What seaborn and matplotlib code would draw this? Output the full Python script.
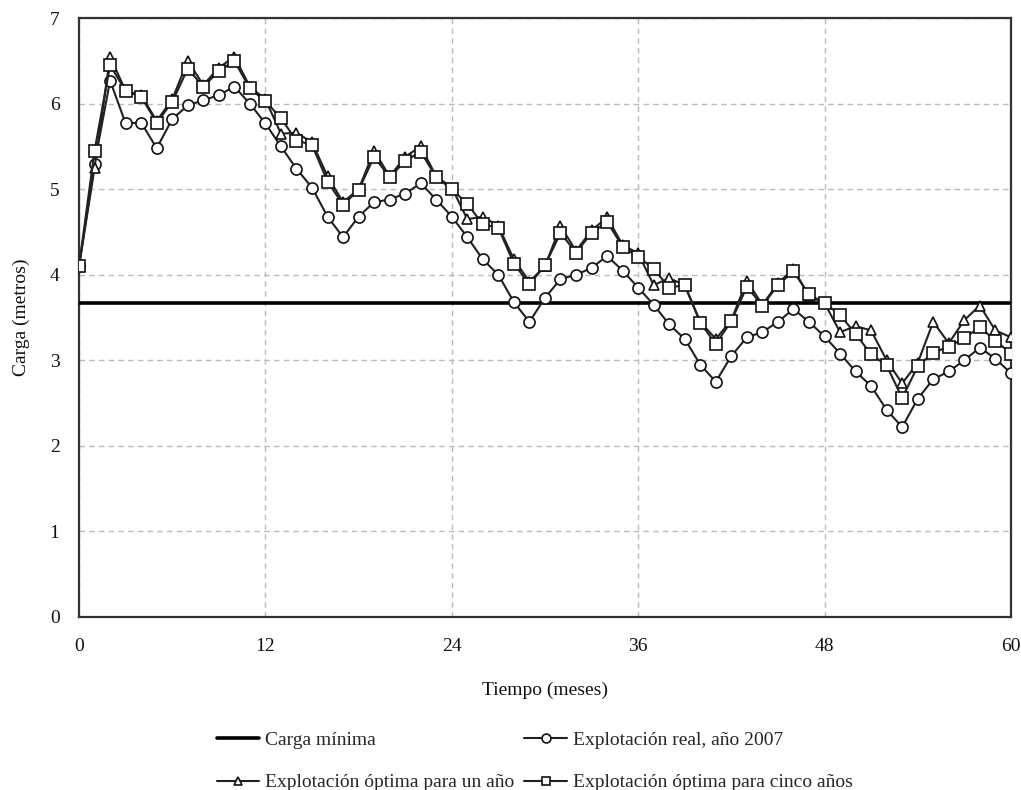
import matplotlib
matplotlib.use("Agg")
import matplotlib.pyplot as plt
import seaborn as sns
import pandas as pd
import numpy as np

meses = list(range(0, 61))

carga_minima = 3.67

explotacion_real = [4.10, 5.30, 6.27, 5.77, 5.78, 5.48, 5.82, 5.98, 6.04, 6.10,
                    6.20, 6.00, 5.77, 5.50, 5.24, 5.02, 4.68, 4.44, 4.68, 4.85,
                    4.88, 4.95, 5.07, 4.88, 4.68, 4.44, 4.18, 4.00, 3.68, 3.45,
                    3.73, 3.95, 4.00, 4.08, 4.22, 4.05, 3.85, 3.65, 3.42, 3.25,
                    2.95, 2.75, 3.05, 3.27, 3.33, 3.45, 3.60, 3.45, 3.28, 3.08,
                    2.87, 2.70, 2.42, 2.22, 2.55, 2.78, 2.87, 3.00, 3.15, 3.02,
                    2.85]

optima_un_ano = [4.10, 5.25, 6.55, 6.15, 6.10, 5.80, 6.05, 6.50, 6.22, 6.42,
                 6.55, 6.20, 6.05, 5.65, 5.66, 5.55, 5.15, 4.85, 5.00, 5.45,
                 5.15, 5.38, 5.50, 5.15, 5.02, 4.65, 4.68, 4.57, 4.18, 3.92,
                 4.10, 4.57, 4.28, 4.52, 4.67, 4.35, 4.25, 3.88, 3.96, 3.88,
                 3.45, 3.25, 3.47, 3.93, 3.65, 3.90, 4.07, 3.75, 3.67, 3.33,
                 3.40, 3.35, 3.00, 2.73, 2.97, 3.45, 3.20, 3.47, 3.64, 3.35,
                 3.27]

optima_cinco_anos = [4.10, 5.45, 6.45, 6.15, 6.08, 5.78, 6.02, 6.41, 6.20, 6.38,
                     6.50, 6.18, 6.03, 5.83, 5.57, 5.52, 5.09, 4.82, 4.99, 5.38,
                     5.14, 5.33, 5.44, 5.14, 5.00, 4.83, 4.59, 4.55, 4.13, 3.89,
                     4.11, 4.49, 4.26, 4.49, 4.62, 4.33, 4.21, 4.07, 3.85, 3.88,
                     3.44, 3.19, 3.46, 3.86, 3.64, 3.88, 4.04, 3.77, 3.67, 3.53,
                     3.31, 3.07, 2.94, 2.56, 2.93, 3.09, 3.16, 3.26, 3.39, 3.23,
                     3.08]

labels = ["Carga mínima", "Explotación real, año 2007",
          "Explotación óptima para un año", "Explotación óptima para cinco años"]

sns.set_theme(style="white")
plt.rcParams['font.family'] = ['Liberation Serif', 'DejaVu Serif']

fig = plt.figure(figsize=(10.21, 7.90), dpi=100)
ax = fig.add_axes([0.0774, 0.219, 0.9127, 0.758])

df_min = pd.DataFrame({"x": [0, 60], "y": [carga_minima, carga_minima]})
sns.lineplot(data=df_min, x="x", y="y", ax=ax, color="black", linewidth=2.6,
             label=labels[0], zorder=3)

df_real = pd.DataFrame({"x": meses, "y": explotacion_real})
sns.lineplot(data=df_real, x="x", y="y", ax=ax, color="#222222", linewidth=1.5,
             marker="o", markersize=8, markerfacecolor="white",
             markeredgecolor="#111111", markeredgewidth=1.2,
             label=labels[1], zorder=4)

df_un = pd.DataFrame({"x": meses, "y": optima_un_ano})
sns.lineplot(data=df_un, x="x", y="y", ax=ax, color="#222222", linewidth=1.5,
             marker="^", markersize=7, markerfacecolor="white",
             markeredgecolor="#111111", markeredgewidth=1.2,
             label=labels[2], zorder=5)

df_cinco = pd.DataFrame({"x": meses, "y": optima_cinco_anos})
sns.lineplot(data=df_cinco, x="x", y="y", ax=ax, color="#222222", linewidth=1.5,
             marker="s", markersize=8, markerfacecolor="white",
             markeredgecolor="#111111", markeredgewidth=1.2,
             label=labels[3], zorder=6)

ax.set_xlim(0, 60)
ax.set_ylim(0, 7)
ax.set_xticks([0, 12, 24, 36, 48, 60])
ax.set_yticks(range(0, 8))
ax.tick_params(axis="both", labelsize=14, length=0, colors="#111111")
ax.tick_params(axis="x", pad=15)
ax.tick_params(axis="y", pad=14)
ax.grid(True, linestyle=(0, (4, 3)), color="#bbbbbb", linewidth=1.0)
ax.set_axisbelow(True)
for s in ax.spines.values():
    s.set_color("#333333")
    s.set_linewidth(1.6)
    s.set_visible(True)

ax.set_xlabel("Tiempo (meses)", fontsize=14, labelpad=19, color="#111111")
ax.set_ylabel("Carga (metros)", fontsize=14, labelpad=14, color="#111111")

handles, lbls = ax.get_legend_handles_labels()
ax.get_legend().remove()
order = [0, 2, 1, 3]
fig.legend([handles[i] for i in order], [lbls[i] for i in order],
           loc="lower left", bbox_to_anchor=(0.195, -0.024), ncol=2,
           frameon=False, fontsize=14, handlelength=2.2, handletextpad=0.3,
           columnspacing=0.5, labelspacing=1.3, markerscale=0.8)

fig.savefig("out.png", dpi=100)
